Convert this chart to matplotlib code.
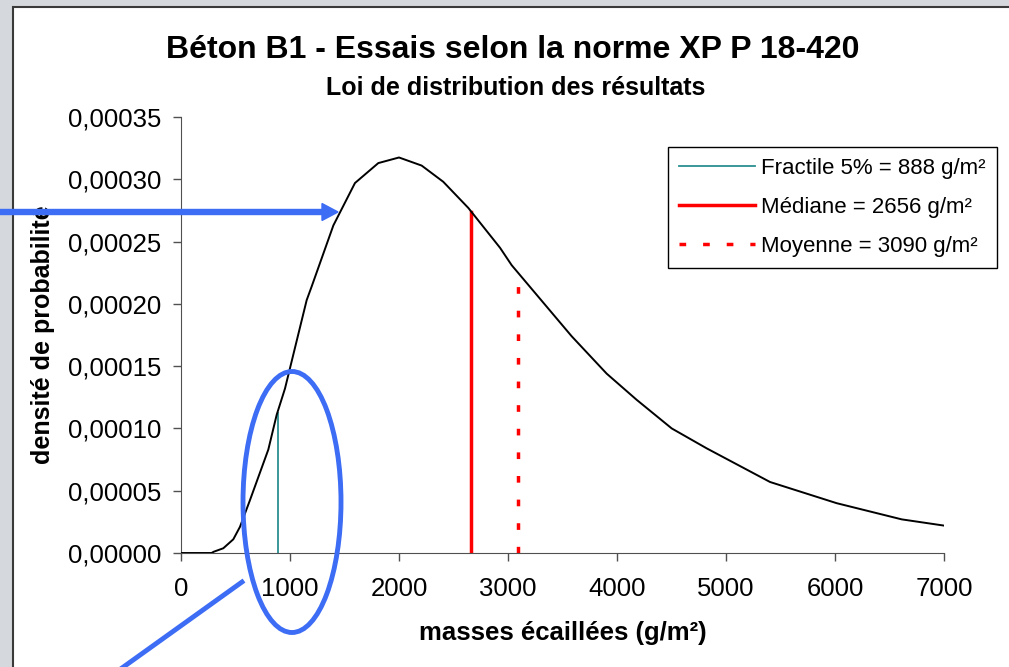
import matplotlib
matplotlib.use('Agg')
from matplotlib import pyplot
from matplotlib.patches import Rectangle, Ellipse, FancyArrow
from matplotlib.lines import Line2D
from matplotlib.transforms import IdentityTransform
from matplotlib.ticker import FuncFormatter

# Densité de probabilité (loi ajustée) en fonction de la masse écaillée
masses = [0, 280, 300, 388, 480, 541, 633, 801, 878, 954, 1153, 1199, 1398, 1596, 1810,
          2000, 2208, 2406, 2636, 2927, 3034, 3584, 3905, 4180, 4502, 4823, 5404, 6015,
          6612, 7000]
densite = [0, 0, 0.000001, 0.0000038, 0.000011, 0.000021, 0.0000425, 0.000083, 0.000111,
           0.000132, 0.000203, 0.000214, 0.000263, 0.000297, 0.000313, 0.0003175, 0.000311,
           0.000298, 0.000277, 0.000245, 0.000231, 0.000174, 0.000144, 0.000123, 0.0001,
           0.000084, 0.000057, 0.00004, 0.000027, 0.000022]

# Valeurs caractéristiques (abscisse, hauteur du trait)
fractile_5 = 888
fractile_5_haut = 0.000112
mediane = 2656
mediane_haut = 0.000274
moyenne = 3090
moyenne_haut = 0.000225

x_ticks = [0, 1000, 2000, 3000, 4000, 5000, 6000, 7000]
y_ticks = [0, 0.00005, 0.0001, 0.00015, 0.0002, 0.00025, 0.0003, 0.00035]

BLEU = '#3d6cf5'
W, H = 1009, 667

pyplot.rcParams['font.family'] = ['Liberation Sans', 'DejaVu Sans']
pyplot.rcParams['lines.scale_dashes'] = False

fig = pyplot.figure(figsize=(W / 100, H / 100), dpi=100)
fig.patch.set_facecolor('#d5d9dd')

# fond blanc du graphique
fig.add_artist(Rectangle((13, -10), W + 10, H - 7 + 10, transform=IdentityTransform(),
                         facecolor='white', edgecolor='#3a3a3a', linewidth=1.5, zorder=-1))

ax = fig.add_axes([181 / W, 1 - 553 / H, (944 - 181) / W, (553 - 117) / H])
ax.set_facecolor('none')

ax.plot(masses, densite, color='black', linewidth=1.4, zorder=3)
ax.plot([fractile_5, fractile_5], [0, fractile_5_haut], color='#2a9090', linewidth=1.3,
        label='Fractile 5% = 888 g/m²')
ax.plot([mediane, mediane], [0, mediane_haut], color='#ff0000', linewidth=2.5,
        label='Médiane = 2656 g/m²')
ax.plot([moyenne, moyenne], [0, moyenne_haut], color='#ff0000', linewidth=2.5,
        dashes=(4.8, 12.2), label='Moyenne = 3090 g/m²')

ax.set_xlim(0, 7000)
ax.set_ylim(0, 0.00035)
ax.set_xticks(x_ticks)
ax.set_yticks(y_ticks)
ax.yaxis.set_major_formatter(FuncFormatter(lambda v, p: f'{v:.5f}'.replace('.', ',')))
ax.tick_params(direction='out', length=6, width=1, color='#505050', labelsize=18.5)
ax.tick_params(axis='x', pad=11)
ax.tick_params(axis='y', pad=8)
for side in ['top', 'right']:
    ax.spines[side].set_visible(False)
for side in ['left', 'bottom']:
    ax.spines[side].set_color('#505050')

ax.set_xlabel('masses écaillées (g/m²)', fontsize=18.5, fontweight='bold')
ax.xaxis.set_label_coords(0.5, -0.155)
ax.set_ylabel('densité de probabilité', fontsize=18, fontweight='bold')
ax.yaxis.set_label_coords(-0.165, 0.5)

fig.text(513 / W, 1 - 50 / H, 'Béton B1 - Essais selon la norme XP P 18-420', fontsize=23,
         fontweight='bold', ha='center', va='center')
fig.text(516 / W, 1 - 88 / H, 'Loi de distribution des résultats', fontsize=18,
         fontweight='bold', ha='center', va='center')

leg = ax.legend(loc='upper right', bbox_to_anchor=(997 / W, 1 - 147 / H),
                bbox_transform=fig.transFigure, fontsize=16, frameon=True, fancybox=False,
                edgecolor='black', framealpha=1, handlelength=3.4, handletextpad=0.3,
                labelspacing=0.8, borderpad=0.5, borderaxespad=0)
leg.get_frame().set_linewidth(1)

# annotations en bleu : flèche, ellipse et trait de rappel
fig.add_artist(FancyArrow(-5, H - 212, 343, 0, width=5, head_width=17, head_length=16,
                          length_includes_head=True, color=BLEU, transform=IdentityTransform(),
                          zorder=10))
fig.add_artist(Ellipse((292, H - 502), 98, 261, fill=False, edgecolor=BLEU, linewidth=3.5,
                       transform=IdentityTransform(), zorder=10))
fig.add_artist(Line2D([242, 108], [H - 582, H - 678], color=BLEU, linewidth=3.5,
                      transform=IdentityTransform(), zorder=10))

fig.savefig('out.png', dpi=100, facecolor=fig.get_facecolor())
